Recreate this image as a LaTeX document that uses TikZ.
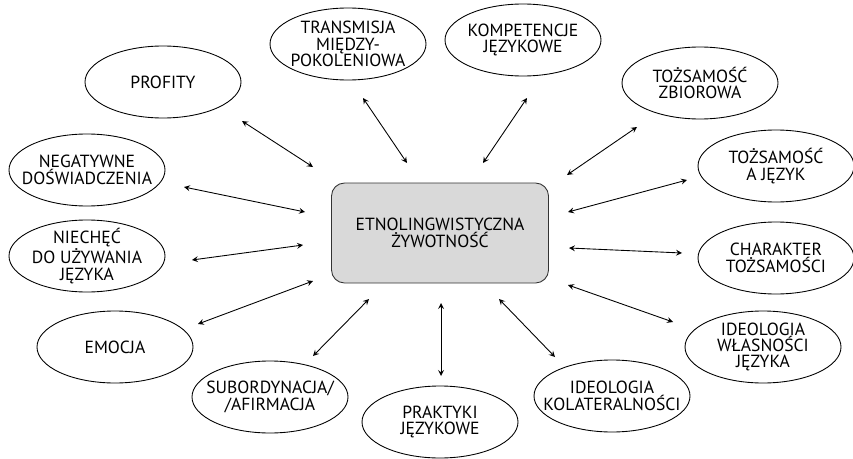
\documentclass[tikz,border=0pt]{standalone}
\usepackage{fontspec}
\setmainfont{PT Sans}
\tikzset{
	pole/.style={align=center, inner sep=0pt, font=\fontsize{10}{9.3}\selectfont},
	rdzen/.style={draw=black!80, fill=black!15, rounded corners=0.26cm, minimum width=4.34cm, minimum height=2cm, align=center, font=\fontsize{10}{10}\selectfont}
}
\begin{document}
\begin{tikzpicture}[line join=round, line cap=round, >=stealth, line width=0.5pt]
	\useasboundingbox (0,0) rectangle (17.06,-9.18);
	\path
	(3.26,-1.64) node[pole] (profity) {PROFITY}
	(6.96,-0.88) node[pole] (transmisja) {TRANSMISJA\\MIĘDZY-\\POKOLENIOWA}
	(10.46,-0.80) node[pole] (kompetencje) {KOMPETENCJE\\JĘZYKOWE}
	(14.00,-1.66) node[pole] (zbiorowa) {TOŻSAMOŚĆ\\ZBIOROWA}
	(15.52,-3.32) node[pole] (tozjezyk) {TOŻSAMOŚĆ\\A JĘZYK}
	(15.52,-5.16) node[pole] (charakter) {CHARAKTER\\TOŻSAMOŚCI}
	(15.26,-6.94) node[pole] (wlasnosc) {IDEOLOGIA\\WŁASNOŚCI\\JĘZYKA}
	(12.24,-7.92) node[pole] (kolateral) {IDEOLOGIA\\KOLATERALNOŚCI}
	(8.80,-8.44) node[pole] (praktyki) {PRAKTYKI\\JĘZYKOWE}
	(5.40,-7.94) node[pole] (subord) {SUBORDYNACJA/\\/AFIRMACJA}
	(2.30,-6.94) node[pole] (emocja) {EMOCJA}
	(1.74,-5.12) node[pole] (niechec) {NIECHĘĆ\\DO UŻYWANIA\\JĘZYKA}
	(1.74,-3.40) node[pole] (negatywne) {NEGATYWNE\\DOŚWIADCZENIA}
	;
	\foreach \n in {profity,transmisja,kompetencje,zbiorowa,tozjezyk,charakter,wlasnosc,kolateral,praktyki,subord,emocja,niechec,negatywne}
	\draw (\n) ellipse (1.56 and 0.72);
	
	\node[rdzen] (etno) at (8.80,-4.66) {ETNOLINGWISTYCZNA\\ŻYWOTNOŚĆ};
	
	% konce strzalek
	\path
	(4.84,-2.42) coordinate (P1) (6.26,-3.34) coordinate (P2)
	(7.26,-1.96) coordinate (T1) (8.14,-3.26) coordinate (T2)
	(3.68,-3.74) coordinate (N1) (6.10,-4.24) coordinate (N2)
	(10.54,-1.96) coordinate (K1) (9.66,-3.26) coordinate (K2)
	(12.74,-2.54) coordinate (Z1) (11.34,-3.50) coordinate (Z2)
	(13.74,-3.60) coordinate (J1) (11.36,-4.24) coordinate (J2)
	(3.84,-5.20) coordinate (U1) (6.06,-4.90) coordinate (U2)
	(3.96,-6.48) coordinate (E1) (6.26,-5.62) coordinate (E2)
	(6.26,-7.12) coordinate (S1) (7.38,-5.98) coordinate (S2)
	(8.82,-6.06) coordinate (R1) (8.82,-7.52) coordinate (R2)
	(9.98,-5.98) coordinate (L1) (11.10,-7.14) coordinate (L2)
	(11.36,-5.70) coordinate (W1) (13.46,-6.44) coordinate (W2)
	(11.38,-4.96) coordinate (C1) (13.64,-5.06) coordinate (C2)
	;
	\foreach \x in {P,T,N,K,Z,J,U,E,S,R,L,W,C} \draw[<->] (\x1)--(\x2);
\end{tikzpicture}
\end{document}
